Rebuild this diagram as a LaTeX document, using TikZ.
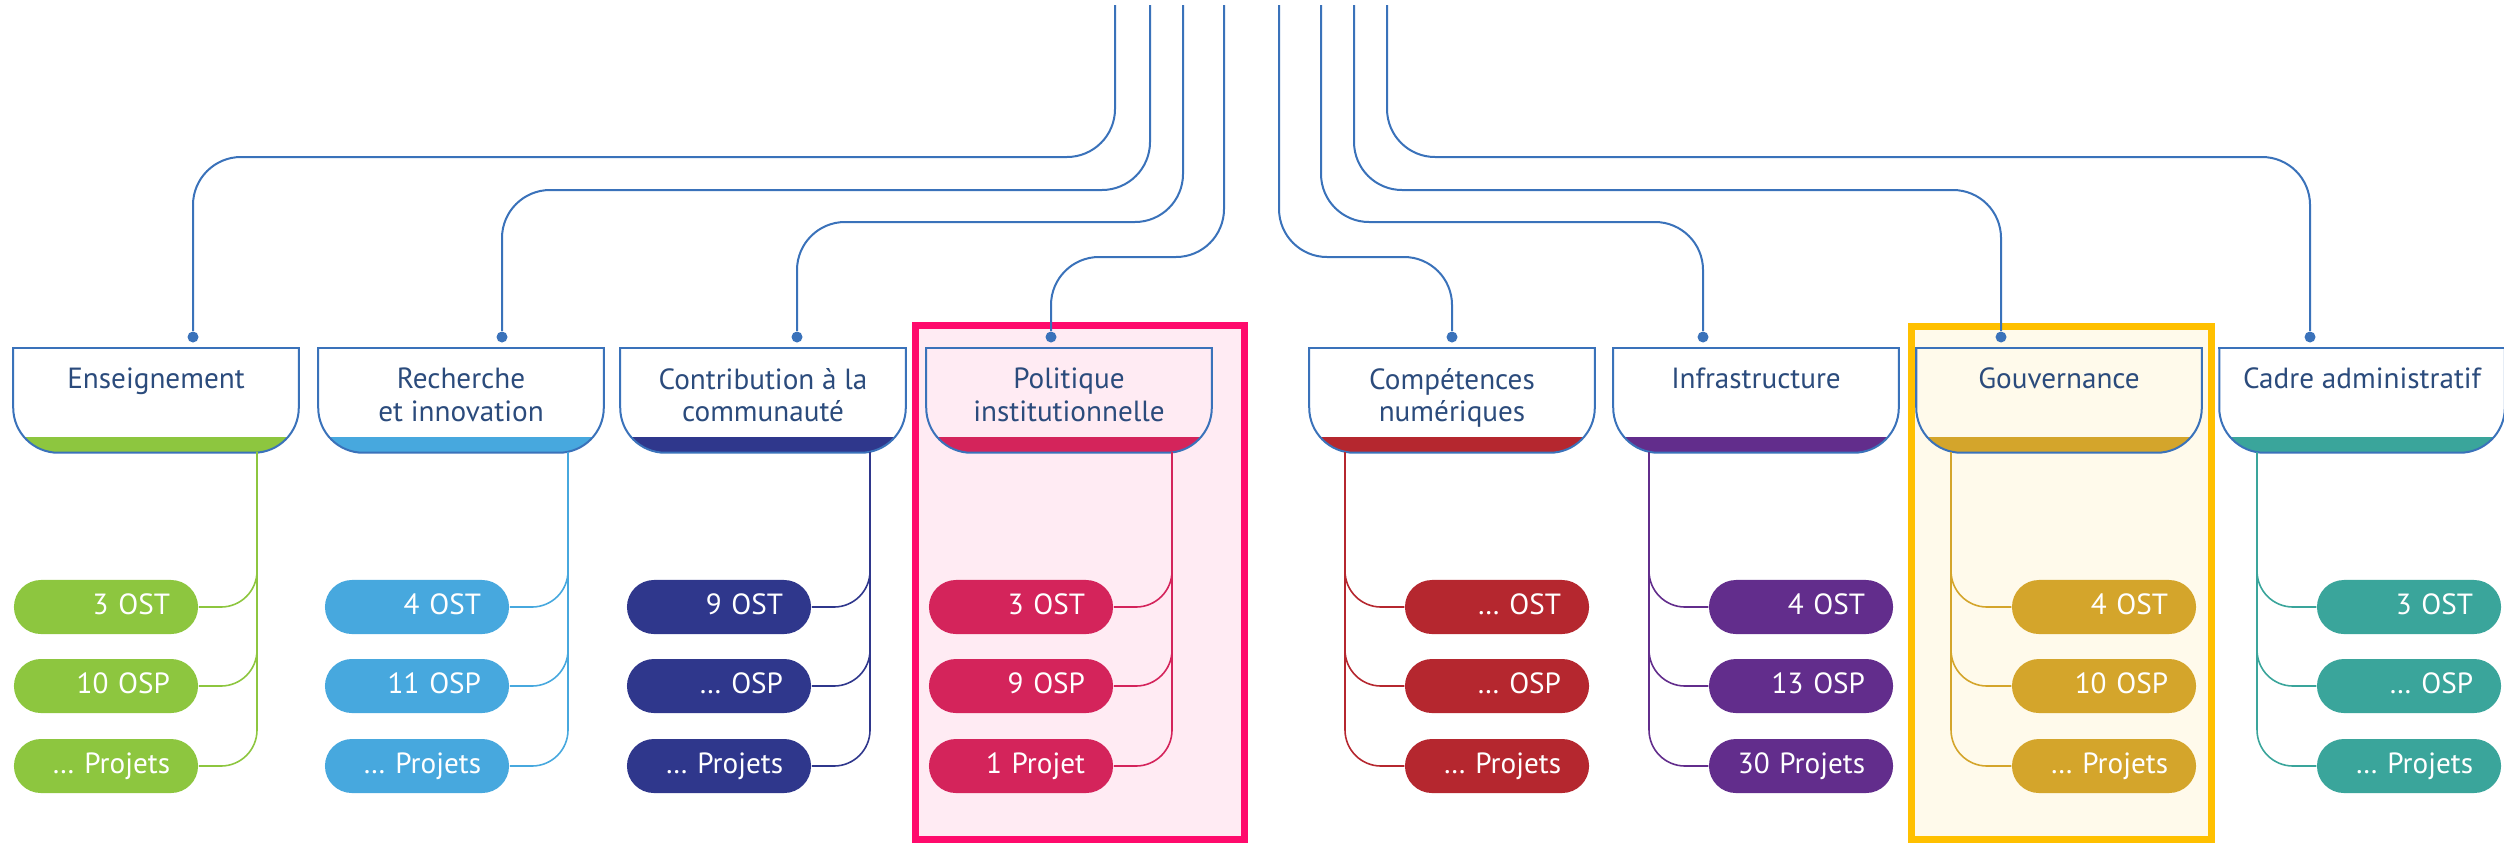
\documentclass[tikz,border=0pt]{standalone}
\usepackage{fontspec}
\setmainfont{PT Sans}
\usetikzlibrary{positioning}

\definecolor{lineblue}{HTML}{3A72BA}
\definecolor{hdrtext}{HTML}{2B4B7C}
\definecolor{cens}{HTML}{8DC63F}
\definecolor{crech}{HTML}{47A8DE}
\definecolor{ccontrib}{HTML}{2F378C}
\definecolor{cpol}{HTML}{D4245B}
\definecolor{ccomp}{HTML}{B5272F}
\definecolor{cinfra}{HTML}{622D8C}
\definecolor{cgouv}{HTML}{D4A52B}
\definecolor{ccadre}{HTML}{3AA59B}
\definecolor{framepink}{HTML}{FF0A6C}
\definecolor{frameyellow}{HTML}{FFC000}

\tikzset{
  hdr/.style={minimum width=2.84cm, minimum height=1.03cm, inner sep=0pt},
  hdrtxt/.style={anchor=north, yshift=-0.19cm, align=center, inner sep=0pt,
    text=hdrtext, font=\fontsize{8.3}{9.2}\selectfont},
  hdrline/.style={draw=lineblue, line width=0.02cm},
  hdrdot/.style={circle, fill=lineblue, inner sep=0pt, minimum size=0.11cm},
  topline/.style={draw=lineblue, line width=0.02cm, rounded corners=0.48cm},
  pill/.style={fill=#1, text=white, rounded corners=0.27cm, minimum height=0.54cm,
    text width=1.28cm, inner xsep=0.28cm, inner ysep=0pt, align=right,
    text height=0.21cm, text depth=0.06cm, font=\fontsize{8.3}{9.2}\selectfont},
  subline/.style={draw=#1, line width=0.016cm, rounded corners=0.36cm},
  hilite/.style={draw=#1, fill=#1!8, line width=0.07cm}
}

% header box: rounded bottom, coloured strip
\newcommand{\hdrbox}[2]{%
  \begin{scope}
    \clip[rounded corners=0.45cm] (#1.north west) -- (#1.south west)
      -- (#1.south east) -- (#1.north east) -- cycle;
    \fill[#2] (#1.south west) rectangle ([yshift=0.16cm]#1.south east);
  \end{scope}
  \draw[hdrline, rounded corners=0.45cm] (#1.north west) -- (#1.south west)
    -- (#1.south east) -- (#1.north east);
  \draw[hdrline, line cap=rect] (#1.north west) -- (#1.north east);
}

\begin{document}
\begin{tikzpicture}[x=0.01cm, y=-0.01cm]
  \useasboundingbox (0,0) rectangle (2504,845);

  % highlighted columns
  \draw[hilite=framepink] (915.5,325.5) rectangle (1244.5,839.5);
  \draw[hilite=frameyellow] (1911,326.5) rectangle (2211.5,839.5);

  % headers
  \node[hdr, label={[hdrtxt]north:Enseignement}] (ens) at (156,400.5) {};
  \node[hdr, label={[hdrtxt]north:Recherche\\et innovation}] (rech) at (461,400.5) {};
  \node[hdr, label={[hdrtxt]north:Contribution à la\\communauté}] (contrib) at (763,400.5) {};
  \node[hdr, label={[hdrtxt]north:Politique\\institutionnelle}] (pol) at (1069,400.5) {};
  \node[hdr, label={[hdrtxt]north:Compétences\\numériques}] (comp) at (1452,400.5) {};
  \node[hdr, label={[hdrtxt]north:Infrastructure}] (infra) at (1756,400.5) {};
  \node[hdr, label={[hdrtxt]north:Gouvernance}] (gouv) at (2059,400.5) {};
  \node[hdr, label={[hdrtxt]north:Cadre administratif}] (cadre) at (2362,400.5) {};

  \hdrbox{ens}{cens}
  \hdrbox{rech}{crech}
  \hdrbox{contrib}{ccontrib}
  \hdrbox{pol}{cpol}
  \hdrbox{comp}{ccomp}
  \hdrbox{infra}{cinfra}
  \hdrbox{gouv}{cgouv}
  \hdrbox{cadre}{ccadre}

  % top connectors
  \foreach \n/\dx in {ens/193, rech/502, contrib/797, pol/1051,
                      comp/1452, infra/1703, gouv/2001, cadre/2310}
    \node[hdrdot] (\n-dot) at (\dx,337) {};

  \foreach \xa/\lev/\n in {1115/157/ens, 1150/190/rech, 1183/222/contrib, 1224/257/pol,
                           1279/257/comp, 1321/222/infra, 1354/190/gouv, 1387/157/cadre} {
    \coordinate (\n-top) at (\xa,5);
    \draw[topline] (\n-top) -- (\xa,\lev) -| (\n-dot);
  }

  % branch points under the headers
  \foreach \n/\vx in {ens/257, rech/568, contrib/870, pol/1172,
                      comp/1345, infra/1649, gouv/1951, cadre/2257}
    \coordinate (\n-v) at (\vx,452);

  % counts
  \node[pill=cens] (ens1) at (106,607) {3 OST};
  \node[pill=cens] (ens2) at (106,686) {10 OSP};
  \node[pill=cens] (ens3) at (106,766) {… Projets};

  \node[pill=crech] (rech1) at (417,607) {4 OST};
  \node[pill=crech] (rech2) at (417,686) {11 OSP};
  \node[pill=crech] (rech3) at (417,766) {… Projets};

  \node[pill=ccontrib] (contrib1) at (719,607) {9 OST};
  \node[pill=ccontrib] (contrib2) at (719,686) {… OSP};
  \node[pill=ccontrib] (contrib3) at (719,766) {… Projets};

  \node[pill=cpol] (pol1) at (1021,607) {3 OST};
  \node[pill=cpol] (pol2) at (1021,686) {9 OSP};
  \node[pill=cpol] (pol3) at (1021,766) {1 Projet};

  \node[pill=ccomp] (comp1) at (1497,607) {… OST};
  \node[pill=ccomp] (comp2) at (1497,686) {… OSP};
  \node[pill=ccomp] (comp3) at (1497,766) {… Projets};

  \node[pill=cinfra] (infra1) at (1801,607) {4 OST};
  \node[pill=cinfra] (infra2) at (1801,686) {13 OSP};
  \node[pill=cinfra] (infra3) at (1801,766) {30 Projets};

  \node[pill=cgouv] (gouv1) at (2104,607) {4 OST};
  \node[pill=cgouv] (gouv2) at (2104,686) {10 OSP};
  \node[pill=cgouv] (gouv3) at (2104,766) {… Projets};

  \node[pill=ccadre] (cadre1) at (2409,607) {3 OST};
  \node[pill=ccadre] (cadre2) at (2409,686) {… OSP};
  \node[pill=ccadre] (cadre3) at (2409,766) {… Projets};

  \foreach \n in {ens, rech, contrib, pol}
    \foreach \i in {1,2,3}
      \draw[subline=c\n] (\n\i.east) -| (\n-v);
  \foreach \n in {comp, infra, gouv, cadre}
    \foreach \i in {1,2,3}
      \draw[subline=c\n] (\n\i.west) -| (\n-v);
\end{tikzpicture}
\end{document}
